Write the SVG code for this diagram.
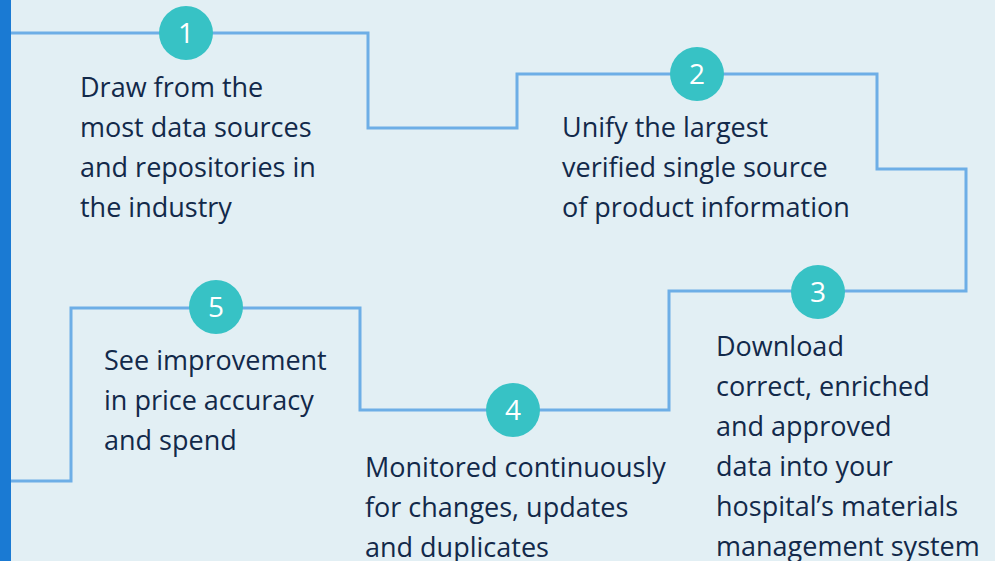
<svg xmlns="http://www.w3.org/2000/svg" width="995" height="561" viewBox="0 0 995 561">
<style>
.conn{fill:none;stroke:#6daee6;stroke-width:3}
.badge{fill:#37c2c5}
.num{font-family:"Open Sans","Noto Sans",sans-serif;font-size:28px;fill:#ffffff;text-anchor:middle}
.txt{font-family:"Open Sans","Noto Sans",sans-serif;font-size:27px;fill:#12294a}
</style>
<rect x="0" y="0" width="995" height="561" fill="#e2eff4"/>
<rect x="0" y="0" width="11" height="561" fill="#1a7ad3"/>
<g id="connectors">
<path class="conn" d="M11 33 H368 V128 H517 V74 H877 V169 H966 V291 H669 V410 H360 V308 H71 V481 H11"/>
</g>
<g id="step1">
<circle class="badge" cx="186" cy="33" r="27"/>
<text class="num" x="186" y="43">1</text>
<text class="txt" x="80" y="97">Draw from the</text>
<text class="txt" x="80" y="137">most data sources</text>
<text class="txt" x="80" y="177">and repositories in</text>
<text class="txt" x="80" y="217">the industry</text>
</g>
<g id="step2">
<circle class="badge" cx="697" cy="74" r="27"/>
<text class="num" x="697" y="84">2</text>
<text class="txt" x="562" y="137">Unify the largest</text>
<text class="txt" x="562" y="177">verified single source</text>
<text class="txt" x="562" y="217">of product information</text>
</g>
<g id="step3">
<circle class="badge" cx="818" cy="292" r="27"/>
<text class="num" x="818" y="302">3</text>
<text class="txt" x="716" y="356">Download</text>
<text class="txt" x="716" y="396">correct, enriched</text>
<text class="txt" x="716" y="436">and approved</text>
<text class="txt" x="716" y="476">data into your</text>
<text class="txt" x="716" y="516">hospital’s materials</text>
<text class="txt" x="716" y="556">management system</text>
</g>
<g id="step4">
<circle class="badge" cx="513" cy="410" r="27"/>
<text class="num" x="513" y="420">4</text>
<text class="txt" x="365" y="477">Monitored continuously</text>
<text class="txt" x="365" y="517">for changes, updates</text>
<text class="txt" x="365" y="557">and duplicates</text>
</g>
<g id="step5">
<circle class="badge" cx="216" cy="307" r="27"/>
<text class="num" x="216" y="317">5</text>
<text class="txt" x="104" y="370">See improvement</text>
<text class="txt" x="104" y="410">in price accuracy</text>
<text class="txt" x="104" y="450">and spend</text>
</g>
</svg>
